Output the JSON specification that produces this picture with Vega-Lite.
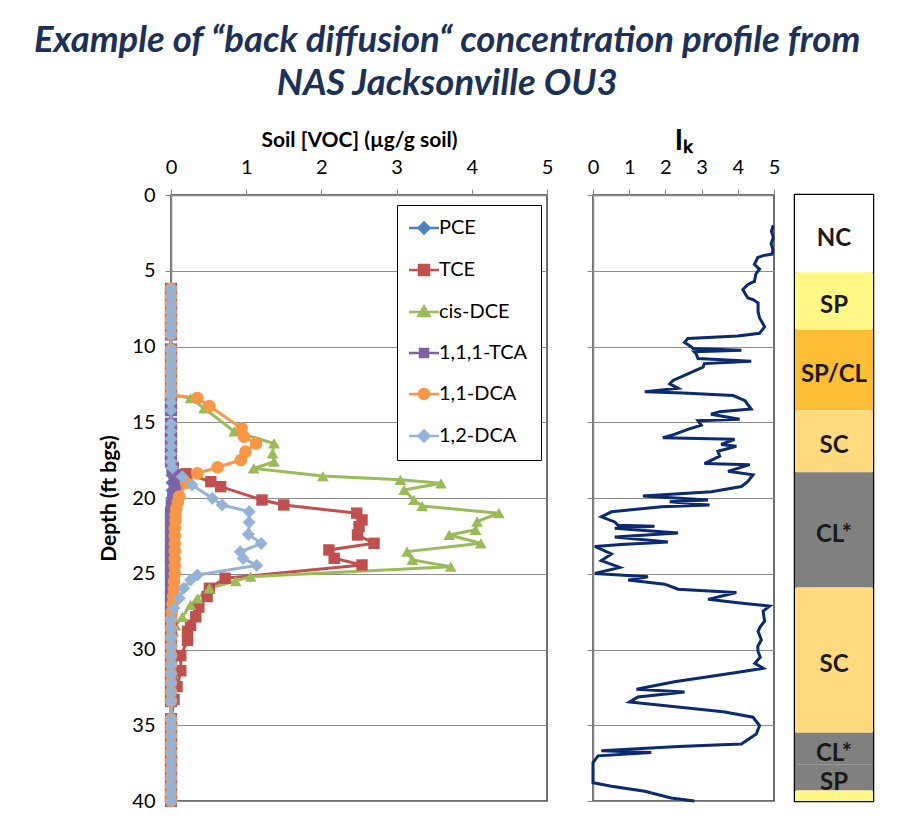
{
  "$schema": "https://vega.github.io/schema/vega-lite/v6.json",
  "background": "white",
  "padding": {"left": 33, "top": 22, "right": 5, "bottom": 5},
  "title": {
    "text": ["Example of “back diffusion“ concentration profile from", "NAS Jacksonville OU3"],
    "font": "Lato", "fontSize": 36.5, "fontStyle": "italic", "fontWeight": "bold",
    "color": "#1B3157", "lineHeight": 43, "anchor": "middle", "offset": 24, "dx": -39
  },
  "config": {
    "font": "Lato",
    "view": {"stroke": "#404040", "strokeWidth": 1.5},
    "axis": {"labelFont": "Lato", "titleFont": "Lato", "labelColor": "black", "titleColor": "black"}
  },
  "resolve": {"scale": {"color": "independent"}, "legend": {"color": "independent"}},
  "spacing": 31,
  "hconcat": [
    {
      "width": 376, "height": 606,
      "data": {"values": [
        {"d":6.2,"PCE":0,"TCE":0,"cis-DCE":0,"1,1,1-TCA":0,"1,1-DCA":0,"1,2-DCA":0},
        {"d":6.7,"PCE":0,"TCE":0,"cis-DCE":0,"1,1,1-TCA":0,"1,1-DCA":0,"1,2-DCA":0},
        {"d":7.2,"PCE":0,"TCE":0,"cis-DCE":0,"1,1,1-TCA":0,"1,1-DCA":0,"1,2-DCA":0},
        {"d":7.7,"PCE":0,"TCE":0,"cis-DCE":0,"1,1,1-TCA":0,"1,1-DCA":0,"1,2-DCA":0},
        {"d":8.2,"PCE":0,"TCE":0,"cis-DCE":0,"1,1,1-TCA":0,"1,1-DCA":0,"1,2-DCA":0},
        {"d":8.7,"PCE":0,"TCE":0,"cis-DCE":0,"1,1,1-TCA":0,"1,1-DCA":0,"1,2-DCA":0},
        {"d":9.2,"PCE":0,"TCE":0,"cis-DCE":0,"1,1,1-TCA":0,"1,1-DCA":0,"1,2-DCA":0},
        {"d":10.2,"PCE":0,"TCE":0,"cis-DCE":0,"1,1,1-TCA":0,"1,1-DCA":0,"1,2-DCA":0},
        {"d":10.7,"PCE":0,"TCE":0,"cis-DCE":0,"1,1,1-TCA":0,"1,1-DCA":0,"1,2-DCA":0},
        {"d":11.2,"PCE":0,"TCE":0,"cis-DCE":0,"1,1,1-TCA":0,"1,1-DCA":0,"1,2-DCA":0},
        {"d":11.7,"PCE":0,"TCE":0,"cis-DCE":0,"1,1,1-TCA":0,"1,1-DCA":0,"1,2-DCA":0},
        {"d":12.2,"PCE":0,"TCE":0,"cis-DCE":0,"1,1,1-TCA":0,"1,1-DCA":0,"1,2-DCA":0},
        {"d":12.7,"PCE":0,"TCE":0,"cis-DCE":0,"1,1,1-TCA":0,"1,1-DCA":0,"1,2-DCA":0},
        {"d":13.2,"PCE":0,"TCE":0,"cis-DCE":0,"1,1,1-TCA":0,"1,1-DCA":0,"1,2-DCA":0},
        {"d":13.4,"cis-DCE":0.26,"1,1-DCA":0.35},
        {"d":13.7,"PCE":0,"TCE":0,"1,1,1-TCA":0,"1,2-DCA":0},
        {"d":13.93,"1,1-DCA":0.51},
        {"d":14.08,"cis-DCE":0.44},
        {"d":14.2,"PCE":0,"TCE":0,"1,1,1-TCA":0,"1,2-DCA":0},
        {"d":15.1,"PCE":0,"TCE":0,"1,1,1-TCA":0,"1,2-DCA":0},
        {"d":15.4,"1,1-DCA":0.94},
        {"d":15.6,"PCE":0,"TCE":0,"cis-DCE":0.84,"1,1,1-TCA":0,"1,2-DCA":0},
        {"d":15.95,"1,1-DCA":0.97},
        {"d":16.1,"PCE":0,"TCE":0,"1,1,1-TCA":0,"1,2-DCA":0},
        {"d":16.4,"cis-DCE":1.37,"1,1-DCA":1.13},
        {"d":16.6,"PCE":0,"TCE":0,"1,1,1-TCA":0,"1,2-DCA":0},
        {"d":16.94,"1,1-DCA":0.99},
        {"d":17.05,"cis-DCE":1.35},
        {"d":17.1,"PCE":0,"TCE":0,"1,1,1-TCA":0,"1,2-DCA":0},
        {"d":17.49,"1,1-DCA":0.93},
        {"d":17.6,"PCE":0,"TCE":0,"cis-DCE":1.37,"1,1,1-TCA":0,"1,2-DCA":0},
        {"d":17.97,"1,1-DCA":0.62},
        {"d":18.0,"PCE":0,"TCE":0.03,"1,1,1-TCA":0.02,"1,2-DCA":0.02},
        {"d":18.05,"cis-DCE":1.1},
        {"d":18.37,"1,1-DCA":0.35},
        {"d":18.4,"TCE":0.2},
        {"d":18.5,"PCE":0,"1,1,1-TCA":0.05},
        {"d":18.55,"cis-DCE":2.02},
        {"d":18.6,"1,2-DCA":0.15},
        {"d":18.8,"cis-DCE":3.05},
        {"d":18.92,"TCE":0.53},
        {"d":19.0,"PCE":0,"1,1,1-TCA":0.06,"1,1-DCA":0.2},
        {"d":19.03,"cis-DCE":3.59},
        {"d":19.14,"1,2-DCA":0.28},
        {"d":19.25,"TCE":0.66},
        {"d":19.47,"cis-DCE":3.1},
        {"d":19.5,"PCE":0,"1,1,1-TCA":0.05},
        {"d":19.9,"1,1-DCA":0.11},
        {"d":20.0,"PCE":0,"1,1,1-TCA":0.03},
        {"d":20.02,"1,2-DCA":0.55},
        {"d":20.13,"TCE":1.21,"cis-DCE":3.23},
        {"d":20.3,"1,1-DCA":0.09},
        {"d":20.46,"TCE":1.5,"1,2-DCA":0.68},
        {"d":20.5,"PCE":0,"1,1,1-TCA":0.01},
        {"d":20.53,"cis-DCE":3.34},
        {"d":20.7,"1,1-DCA":0.07},
        {"d":20.9,"1,2-DCA":1.04},
        {"d":21.0,"PCE":0,"TCE":2.47,"cis-DCE":4.36,"1,1,1-TCA":0},
        {"d":21.1,"1,1-DCA":0.06},
        {"d":21.45,"TCE":2.54},
        {"d":21.5,"PCE":0,"1,1,1-TCA":0,"1,1-DCA":0.06},
        {"d":21.56,"cis-DCE":4.07},
        {"d":21.6,"1,2-DCA":1.04},
        {"d":21.89,"TCE":2.5},
        {"d":22.0,"PCE":0,"1,1,1-TCA":0,"1,1-DCA":0.05},
        {"d":22.1,"cis-DCE":4.05},
        {"d":22.4,"1,2-DCA":1.03},
        {"d":22.44,"TCE":2.48,"cis-DCE":3.7},
        {"d":22.5,"PCE":0,"1,1,1-TCA":0,"1,1-DCA":0.05},
        {"d":22.99,"TCE":2.7,"cis-DCE":4.12},
        {"d":23.0,"PCE":0,"1,1,1-TCA":0,"1,1-DCA":0.05,"1,2-DCA":1.2},
        {"d":23.43,"TCE":2.1},
        {"d":23.5,"PCE":0,"1,1,1-TCA":0,"1,1-DCA":0.05},
        {"d":23.54,"cis-DCE":3.14},
        {"d":23.55,"1,2-DCA":0.92},
        {"d":23.98,"TCE":2.17},
        {"d":24.0,"PCE":0,"1,1,1-TCA":0,"1,1-DCA":0.05,"1,2-DCA":0.96},
        {"d":24.09,"cis-DCE":3.21},
        {"d":24.42,"TCE":2.54},
        {"d":24.45,"1,2-DCA":1.14},
        {"d":24.5,"PCE":0,"1,1,1-TCA":0,"1,1-DCA":0.05},
        {"d":24.53,"cis-DCE":3.72},
        {"d":25.0,"PCE":0,"1,1,1-TCA":0,"1,1-DCA":0.05},
        {"d":25.08,"1,2-DCA":0.35},
        {"d":25.19,"cis-DCE":1.06},
        {"d":25.3,"TCE":0.72},
        {"d":25.41,"1,2-DCA":0.26},
        {"d":25.48,"cis-DCE":0.86},
        {"d":25.5,"PCE":0,"1,1,1-TCA":0,"1,1-DCA":0.04},
        {"d":25.96,"TCE":0.51,"cis-DCE":0.51,"1,2-DCA":0.17},
        {"d":26.0,"PCE":0,"1,1,1-TCA":0,"1,1-DCA":0.04},
        {"d":26.5,"PCE":0,"TCE":0.48,"1,1,1-TCA":0,"1,1-DCA":0.03},
        {"d":26.62,"cis-DCE":0.35,"1,2-DCA":0.11},
        {"d":27.0,"PCE":0,"1,1,1-TCA":0,"1,1-DCA":0.02},
        {"d":27.06,"cis-DCE":0.26},
        {"d":27.2,"TCE":0.37},
        {"d":27.28,"1,2-DCA":0.04},
        {"d":27.5,"PCE":0,"1,1,1-TCA":0,"1,1-DCA":0.01},
        {"d":27.84,"TCE":0.33,"cis-DCE":0.15},
        {"d":28.0,"PCE":0,"1,1,1-TCA":0,"1,1-DCA":0,"1,2-DCA":0},
        {"d":28.4,"TCE":0.26,"cis-DCE":0.06},
        {"d":28.6,"PCE":0,"1,1,1-TCA":0,"1,1-DCA":0,"1,2-DCA":0},
        {"d":28.8,"TCE":0.22,"cis-DCE":0.03},
        {"d":29.2,"PCE":0,"cis-DCE":0,"1,1,1-TCA":0,"1,1-DCA":0,"1,2-DCA":0},
        {"d":29.4,"TCE":0.22},
        {"d":29.8,"PCE":0,"cis-DCE":0,"1,1,1-TCA":0,"1,1-DCA":0,"1,2-DCA":0},
        {"d":30.4,"PCE":0,"TCE":0.13,"cis-DCE":0,"1,1,1-TCA":0,"1,1-DCA":0,"1,2-DCA":0},
        {"d":31.0,"PCE":0,"cis-DCE":0,"1,1,1-TCA":0,"1,1-DCA":0,"1,2-DCA":0},
        {"d":31.4,"TCE":0.13},
        {"d":31.6,"PCE":0,"cis-DCE":0,"1,1,1-TCA":0,"1,1-DCA":0,"1,2-DCA":0},
        {"d":32.2,"PCE":0,"cis-DCE":0,"1,1,1-TCA":0,"1,1-DCA":0,"1,2-DCA":0},
        {"d":32.45,"TCE":0.08},
        {"d":32.8,"PCE":0,"cis-DCE":0,"1,1,1-TCA":0,"1,1-DCA":0,"1,2-DCA":0},
        {"d":33.3,"TCE":0.04},
        {"d":33.4,"PCE":0,"cis-DCE":0,"1,1,1-TCA":0,"1,1-DCA":0,"1,2-DCA":0},
        {"d":34.6,"PCE":0,"TCE":0,"cis-DCE":0,"1,1,1-TCA":0,"1,1-DCA":0,"1,2-DCA":0},
        {"d":35.15,"PCE":0,"TCE":0,"cis-DCE":0,"1,1,1-TCA":0,"1,1-DCA":0,"1,2-DCA":0},
        {"d":35.7,"PCE":0,"TCE":0,"cis-DCE":0,"1,1,1-TCA":0,"1,1-DCA":0,"1,2-DCA":0},
        {"d":36.25,"PCE":0,"TCE":0,"cis-DCE":0,"1,1,1-TCA":0,"1,1-DCA":0,"1,2-DCA":0},
        {"d":36.8,"PCE":0,"TCE":0,"cis-DCE":0,"1,1,1-TCA":0,"1,1-DCA":0,"1,2-DCA":0},
        {"d":37.35,"PCE":0,"TCE":0,"cis-DCE":0,"1,1,1-TCA":0,"1,1-DCA":0,"1,2-DCA":0},
        {"d":37.9,"PCE":0,"TCE":0,"cis-DCE":0,"1,1,1-TCA":0,"1,1-DCA":0,"1,2-DCA":0},
        {"d":38.45,"PCE":0,"TCE":0,"cis-DCE":0,"1,1,1-TCA":0,"1,1-DCA":0,"1,2-DCA":0},
        {"d":39.0,"PCE":0,"TCE":0,"cis-DCE":0,"1,1,1-TCA":0,"1,1-DCA":0,"1,2-DCA":0},
        {"d":39.5,"PCE":0,"TCE":0,"cis-DCE":0,"1,1,1-TCA":0,"1,1-DCA":0,"1,2-DCA":0},
        {"d":40.0,"PCE":0,"TCE":0,"cis-DCE":0,"1,1,1-TCA":0,"1,1-DCA":0,"1,2-DCA":0}
      ]},
      "transform": [
        {"fold": ["PCE", "TCE", "cis-DCE", "1,1,1-TCA", "1,1-DCA", "1,2-DCA"], "as": ["series", "conc"]},
        {"filter": "isValid(datum.conc)"},
        {"calculate": "indexof(['PCE','TCE','cis-DCE','1,1,1-TCA','1,1-DCA','1,2-DCA'], datum.series)", "as": "idx"}
      ],
      "encoding": {
        "y": {
          "field": "d", "type": "quantitative",
          "scale": {"domain": [0, 40], "reverse": true, "nice": false, "zero": false},
          "axis": {
            "title": "Depth (ft bgs)", "values": [0, 5, 10, 15, 20, 25, 30, 35, 40],
            "grid": true, "gridColor": "#8C8C8C", "gridWidth": 1, "labelFlush": false,
            "domainColor": "#868686", "domainWidth": 1.5, "tickColor": "#868686", "tickSize": 6,
            "labelFontSize": 20, "labelPadding": 10,
            "titleFontSize": 21, "titleFontWeight": "bold", "titlePadding": 12
          }
        },
        "x": {
          "field": "conc", "type": "quantitative",
          "scale": {"domain": [0, 5], "nice": false},
          "axis": {
            "orient": "top", "title": "Soil [VOC] (µg/g soil)", "values": [0, 1, 2, 3, 4, 5],
            "grid": false, "labelFlush": false, "domainColor": "#868686", "domainWidth": 1.5, "tickColor": "#868686", "tickSize": 6,
            "labelFontSize": 20, "labelPadding": 12,
            "titleFontSize": 21, "titleFontWeight": "bold", "titlePadding": 7
          }
        },
        "color": {
          "field": "series", "type": "nominal",
          "scale": {
            "domain": ["PCE", "TCE", "cis-DCE", "1,1,1-TCA", "1,1-DCA", "1,2-DCA"],
            "range": ["#4F81BD", "#C0504D", "#9BBB59", "#8064A2", "#F79646", "#95B3D7"]
          },
          "legend": {
            "orient": "none", "legendX": 226, "legendY": 10, "title": null,
            "fillColor": "white", "strokeColor": "black",
            "padding": 13, "rowPadding": 21, "labelFont": "Lato", "labelFontSize": 20,
            "labelColor": "black", "labelOffset": 9, "symbolSize": 100, "symbolOpacity": 1,
            "encode": {
              "symbols": {
                "update": {
                  "shape": {"signal": "datum.value === 'PCE' ? 'M-2.2,0H3.8M0.8,-1.1L1.9,0L0.8,1.1L-0.3,0Z' : datum.value === 'TCE' ? 'M-2.2,0H3.8M-0.2,-1H1.8V1H-0.2Z' : datum.value === 'cis-DCE' ? 'M-2.2,0H3.8M0.8,-1.1L1.9,0.8L-0.3,0.8Z' : datum.value === '1,1,1-TCA' ? 'M-2.2,0H3.8M0,-0.8H1.6V0.8H0Z' : datum.value === '1,1-DCA' ? 'M-2.2,0H3.8M-0.2,0A1,1 0 1,0 1.8,0A1,1 0 1,0 -0.2,0Z' : 'M-2.2,0H3.8M0.8,-1.1L1.9,0L0.8,1.1L-0.3,0Z'"},
                  "fill": {"signal": "datum.value === 'PCE' ? '#4F81BD' : datum.value === 'TCE' ? '#C0504D' : datum.value === 'cis-DCE' ? '#9BBB59' : datum.value === '1,1,1-TCA' ? '#8064A2' : datum.value === '1,1-DCA' ? '#F79646' : '#95B3D7'"},
                  "stroke": {"signal": "datum.value === 'PCE' ? '#4F81BD' : datum.value === 'TCE' ? '#C0504D' : datum.value === 'cis-DCE' ? '#9BBB59' : datum.value === '1,1,1-TCA' ? '#8064A2' : datum.value === '1,1-DCA' ? '#F79646' : '#95B3D7'"},
                  "strokeWidth": {"value": 2.5},
                  "size": {"value": 100},
                  "opacity": {"value": 1}
                }
              }
            }
          }
        }
      },
      "layer": [
        {
          "mark": {"type": "line", "strokeWidth": 3},
          "encoding": {"order": {"field": "d", "type": "quantitative"}}
        },
        {
          "mark": {"type": "point", "filled": true, "opacity": 1},
          "encoding": {
            "shape": {
              "field": "series", "type": "nominal",
              "scale": {
                "domain": ["PCE", "TCE", "cis-DCE", "1,1,1-TCA", "1,1-DCA", "1,2-DCA"],
                "range": ["diamond", "square", "triangle-up", "square", "circle", "diamond"]
              },
              "legend": null
            },
            "size": {
              "field": "series", "type": "nominal",
              "scale": {
                "domain": ["PCE", "TCE", "cis-DCE", "1,1,1-TCA", "1,1-DCA", "1,2-DCA"],
                "range": [120, 170, 210, 80, 170, 180]
              },
              "legend": null
            },
            "order": {"field": "idx", "type": "quantitative"}
          }
        }
      ]
    },
    {
      "spacing": 12,
      "resolve": {"scale": {"color": "independent"}},
      "hconcat": [
        {
          "width": 181, "height": 606,
          "data": {"values": [
            {"d":2.0,"ik":4.98},{"d":2.4,"ik":4.93},{"d":2.8,"ik":4.98},{"d":3.2,"ik":4.92},{"d":3.6,"ik":4.97},{"d":3.9,"ik":4.95},
            {"d":4.0,"ik":4.7},{"d":4.13,"ik":4.55},{"d":4.58,"ik":4.46},{"d":4.9,"ik":4.6},{"d":5.2,"ik":4.5},{"d":5.7,"ik":4.46},
            {"d":5.9,"ik":4.28},{"d":6.24,"ik":4.14},{"d":6.5,"ik":4.2},{"d":6.8,"ik":4.28},{"d":6.9,"ik":4.42},{"d":7.13,"ik":4.56},
            {"d":7.7,"ik":4.56},{"d":8.1,"ik":4.6},{"d":8.7,"ik":4.74},{"d":9.13,"ik":4.6},{"d":9.3,"ik":4.0},{"d":9.47,"ik":2.62},
            {"d":9.73,"ik":2.53},{"d":10.0,"ik":2.7},{"d":10.13,"ik":2.76},{"d":10.25,"ik":4.1},{"d":10.35,"ik":2.8},{"d":10.47,"ik":2.85},
            {"d":10.8,"ik":2.9},{"d":10.98,"ik":4.37},{"d":11.13,"ik":3.08},{"d":11.36,"ik":3.04},{"d":11.8,"ik":2.62},{"d":12.24,"ik":2.21},
            {"d":12.47,"ik":2.12},{"d":12.76,"ik":2.35},{"d":12.98,"ik":1.43},{"d":13.07,"ik":2.49},{"d":13.24,"ik":3.87},{"d":13.58,"ik":4.2},
            {"d":14.13,"ik":4.37},{"d":14.3,"ik":3.5},{"d":14.47,"ik":3.26},{"d":14.8,"ik":4.05},{"d":14.9,"ik":2.9},{"d":15.2,"ik":2.99},
            {"d":15.47,"ik":2.62},{"d":15.8,"ik":2.25},{"d":16.02,"ik":1.93},{"d":16.13,"ik":3.91},{"d":16.47,"ik":3.54},{"d":16.58,"ik":3.96},
            {"d":16.91,"ik":3.45},{"d":17.24,"ik":3.5},{"d":17.73,"ik":3.08},{"d":17.8,"ik":4.33},{"d":18.24,"ik":3.73},{"d":18.47,"ik":4.42},
            {"d":18.91,"ik":4.28},{"d":19.24,"ik":4.1},{"d":19.58,"ik":3.27},{"d":19.87,"ik":1.38},{"d":20.13,"ik":3.18},{"d":20.24,"ik":2.12},
            {"d":20.47,"ik":3.22},{"d":20.58,"ik":1.89},{"d":20.91,"ik":0.51},{"d":21.24,"ik":0.23},{"d":21.58,"ik":0.6},{"d":21.8,"ik":0.69},
            {"d":21.87,"ik":1.7},{"d":22.0,"ik":0.6},{"d":22.31,"ik":2.35},{"d":22.58,"ik":0.6},{"d":22.91,"ik":2.07},{"d":23.07,"ik":0.78},
            {"d":23.2,"ik":0.05},{"d":23.69,"ik":0.51},{"d":24.13,"ik":0.23},{"d":24.58,"ik":0.74},{"d":24.98,"ik":0.05},{"d":25.2,"ik":1.52},
            {"d":25.42,"ik":0.97},{"d":25.69,"ik":1.98},{"d":26.02,"ik":2.35},{"d":26.13,"ik":3.08},{"d":26.24,"ik":3.96},{"d":26.69,"ik":3.18},
            {"d":26.91,"ik":4.0},{"d":27.13,"ik":4.88},{"d":27.47,"ik":4.7},{"d":28.13,"ik":4.74},{"d":28.5,"ik":4.62},{"d":28.8,"ik":4.56},
            {"d":29.36,"ik":4.65},{"d":29.8,"ik":4.55},{"d":30.13,"ik":4.56},{"d":30.5,"ik":4.62},{"d":30.91,"ik":4.47},{"d":31.24,"ik":4.7},
            {"d":31.47,"ik":4.1},{"d":31.8,"ik":3.18},{"d":32.13,"ik":2.25},{"d":32.62,"ik":1.2},{"d":32.8,"ik":2.53},{"d":33.13,"ik":1.24},
            {"d":33.47,"ik":1.01},{"d":34.02,"ik":3.27},{"d":34.13,"ik":3.64},{"d":34.47,"ik":4.42},{"d":35.02,"ik":4.6},{"d":35.58,"ik":4.51},
            {"d":36.24,"ik":4.1},{"d":36.4,"ik":2.35},{"d":36.69,"ik":0.23},{"d":36.8,"ik":1.61},{"d":37.02,"ik":0.14},{"d":37.47,"ik":0.0},
            {"d":38.8,"ik":0.0},{"d":39.02,"ik":0.51},{"d":39.36,"ik":1.43},{"d":39.8,"ik":2.16},{"d":40.0,"ik":2.8}
          ]},
          "mark": {"type": "line", "color": "#0B2A6F", "strokeWidth": 3},
          "encoding": {
            "y": {
              "field": "d", "type": "quantitative",
              "scale": {"domain": [0, 40], "reverse": true, "nice": false, "zero": false},
              "axis": {
                "title": null, "labels": false, "values": [0, 5, 10, 15, 20, 25, 30, 35, 40],
                "grid": true, "gridColor": "#8C8C8C", "gridWidth": 1,
                "domainColor": "#868686", "domainWidth": 1.5, "tickColor": "#868686", "tickSize": 6
              }
            },
            "x": {
              "field": "ik", "type": "quantitative",
              "scale": {"domain": [0, 5], "nice": false},
              "axis": {
                "orient": "top", "title": "Iₖ", "values": [0, 1, 2, 3, 4, 5],
                "grid": false, "labelFlush": false, "domainColor": "#868686", "domainWidth": 1.5, "tickColor": "#868686", "tickSize": 6,
                "labelFontSize": 20, "labelPadding": 12,
                "titleFontSize": 28, "titleFontWeight": "bold", "titlePadding": 2
              }
            },
            "order": {"field": "d", "type": "quantitative"}
          }
        },
        {
          "width": 78, "height": 606,
          "view": {"stroke": "black", "strokeWidth": 2.5},
          "data": {"values": [
            {"top": 0, "bottom": 5.1, "unit": "NC", "label": "NC"},
            {"top": 5.1, "bottom": 8.9, "unit": "SP", "label": "SP"},
            {"top": 8.9, "bottom": 14.2, "unit": "SP/CL", "label": "SP/CL"},
            {"top": 14.2, "bottom": 18.3, "unit": "SC", "label": "SC"},
            {"top": 18.3, "bottom": 25.9, "unit": "CL*", "label": "CL*"},
            {"top": 25.9, "bottom": 35.5, "unit": "SC", "label": "SC"},
            {"top": 35.5, "bottom": 37.6, "unit": "CL*", "label": "CL*"},
            {"top": 37.6, "bottom": 39.3, "unit": "CL*", "label": "SP"},
            {"top": 39.3, "bottom": 40, "unit": "SP", "label": ""}
          ]},
          "transform": [{"calculate": "(datum.top + datum.bottom) / 2", "as": "mid"}],
          "layer": [
            {
              "mark": {"type": "rect"},
              "encoding": {
                "y": {"field": "top", "type": "quantitative", "scale": {"domain": [0, 40], "reverse": true, "nice": false, "zero": false}, "axis": null},
                "y2": {"field": "bottom"},
                "x": {"datum": 0, "type": "quantitative", "scale": {"domain": [0, 1], "nice": false}, "axis": null},
                "x2": {"datum": 1},
                "color": {
                  "field": "unit", "type": "nominal",
                  "scale": {"domain": ["NC", "SP", "SP/CL", "SC", "CL*"], "range": ["#FFFFFF", "#FFF785", "#FBBE34", "#FFDA7E", "#808080"]},
                  "legend": null
                }
              }
            },
            {
              "mark": {"type": "text", "fontWeight": "bold", "fontSize": 24, "dy": 5, "color": "#1A1A1A", "font": "Lato"},
              "encoding": {
                "y": {"field": "mid", "type": "quantitative"},
                "x": {"datum": 0.5, "type": "quantitative"},
                "text": {"field": "label"}
              }
            }
          ]
        }
      ]
    }
  ]
}
